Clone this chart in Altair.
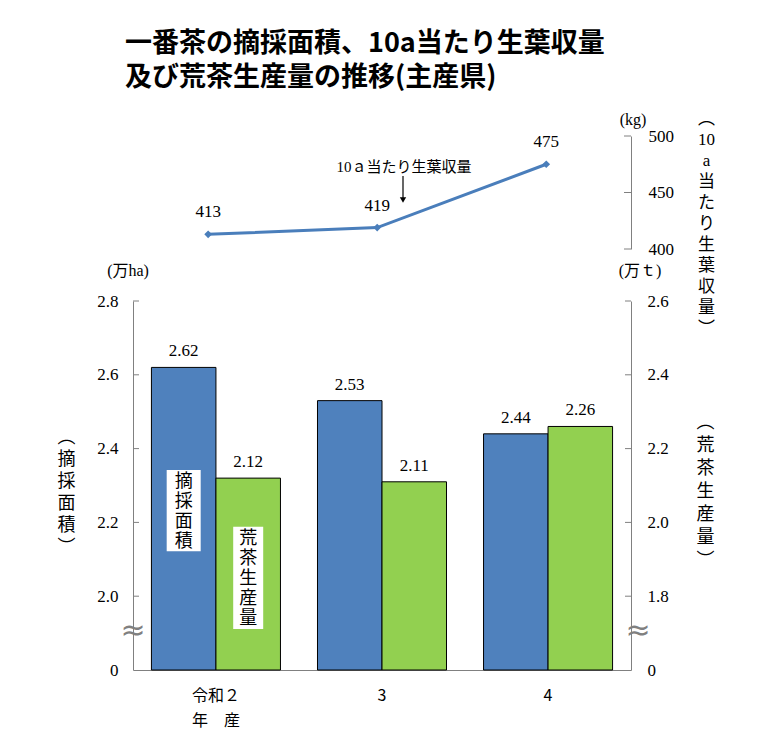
import altair as alt
import pandas as pd

# ---- data ----
years = ["令和２", "3", "4"]
area = [2.62, 2.53, 2.44]          # 摘採面積 (万ha)
production = [2.12, 2.11, 2.26]    # 荒茶生産量 (万t)
yield_kg = [413, 419, 475]         # 10a当たり生葉収量 (kg)
series_names = ["摘採面積", "荒茶生産量"]
left_ticks = [1.8, 2.0, 2.2, 2.4, 2.6, 2.8]
right_ticks = [1.6, 1.8, 2.0, 2.2, 2.4, 2.6]
top_ticks = [400, 450, 500]

# ---- styles ----
BLUE = "#4F81BD"
GREEN = "#92D050"
LINE = "#4A7EBB"
GRAY = "#808080"
SERIF = "'Liberation Serif', 'Noto Sans CJK JP'"
SANS = "'Noto Sans CJK JP'"
W = 498
H_TOP = 113
H_BOT = 369

df_area = pd.DataFrame({"year": years, "series": series_names[0], "value": area})
df_prod = pd.DataFrame({"year": years, "series": series_names[1], "value": production})
df_yield = pd.DataFrame({"year": years, "kg": yield_kg})
one = pd.DataFrame({"a": [0]})

left_scale = alt.Scale(domain=[1.8, 2.8], zero=False, nice=False)
right_scale = alt.Scale(domain=[1.6, 2.6], zero=False, nice=False)
top_scale = alt.Scale(domain=[400, 500], zero=False, nice=False)

x_bot = alt.X(
    "year:N", sort=years,
    scale=alt.Scale(paddingInner=0.223, paddingOuter=0.111),
    axis=alt.Axis(title=None, ticks=False, domainColor=GRAY, labelFont=SANS,
                  labelFontSize=16, labelColor="black", labelPadding=17,
                  labelLineHeight=25, labelAngle=0,
                  labelExpr="datum.value == '令和２' ? ['令和２', '年　産'] : datum.value"),
)
xoff = alt.XOffset("series:N", scale=alt.Scale(domain=series_names, paddingInner=0, paddingOuter=0))

blue = alt.Chart(df_area).mark_bar(color=BLUE, stroke="black", strokeWidth=1).encode(
    x=x_bot, xOffset=xoff,
    y=alt.Y("value:Q", scale=left_scale, axis=alt.Axis(
        orient="left", values=left_ticks,
        labelExpr="datum.value < 1.9 ? '0' : format(datum.value, '.1f')",
        ticks=False, grid=False, domainColor=GRAY, labelFont=SERIF, labelFontSize=17,
        labelColor="black", labelPadding=15,
        title=["︵", "摘", "採", "面", "積", "︶"], titleAngle=0, titleX=-67, titleY=136,
        titleBaseline="middle", titleAlign="center", titleFont=SANS, titleFontSize=18,
        titleFontWeight="normal", titleLineHeight=22, titleColor="black")),
    y2=alt.datum(1.8),
)

green = alt.Chart(df_prod).mark_bar(color=GREEN, stroke="black", strokeWidth=1).encode(
    x=x_bot, xOffset=xoff,
    y=alt.Y("value:Q", scale=right_scale, axis=alt.Axis(
        orient="right", values=right_ticks,
        labelExpr="datum.value < 1.7 ? '0' : format(datum.value, '.1f')",
        ticks=False, grid=False, domainColor=GRAY, labelFont=SERIF, labelFontSize=17,
        labelColor="black", labelPadding=16,
        title=["︵", "荒", "茶", "生", "産", "量", "︶"], titleAngle=0, titleX=74, titleY=121,
        titleBaseline="middle", titleAlign="center", titleFont=SANS, titleFontSize=18,
        titleFontWeight="normal", titleLineHeight=23, titleColor="black")),
    y2=alt.datum(1.6),
)

blue_lbl = alt.Chart(df_area).mark_text(font=SERIF, fontSize=17, dy=-16, color="black").encode(
    x=x_bot, xOffset=xoff,
    y=alt.Y("value:Q", scale=left_scale, axis=None),
    text=alt.Text("value:Q", format=".2f"),
)
green_lbl = alt.Chart(df_prod).mark_text(font=SERIF, fontSize=17, dy=-16, color="black").encode(
    x=x_bot, xOffset=xoff,
    y=alt.Y("value:Q", scale=right_scale, axis=None),
    text=alt.Text("value:Q", format=".2f"),
)

left_tick_rules = alt.Chart(pd.DataFrame({"t": left_ticks[1:]})).mark_rule(color=GRAY).encode(
    y=alt.Y("t:Q", scale=left_scale, axis=None), x=alt.value(0), x2=alt.value(6))
right_tick_rules = alt.Chart(pd.DataFrame({"t": right_ticks[1:]})).mark_rule(color=GRAY).encode(
    y=alt.Y("t:Q", scale=right_scale, axis=None), x=alt.value(W - 6), x2=alt.value(W))

box_a_df = pd.DataFrame({"year": [years[0]], "series": [series_names[0]]})
box_p_df = pd.DataFrame({"year": [years[0]], "series": [series_names[1]]})
box_a = alt.Chart(box_a_df).mark_bar(color="white", size=34).encode(
    x=x_bot, xOffset=xoff,
    y=alt.Y(datum=2.342, scale=left_scale, axis=None), y2=alt.datum(2.122))
box_a_txt = alt.Chart(box_a_df).mark_text(font=SANS, fontSize=18, lineHeight=20, baseline="middle", color="black").encode(
    x=x_bot, xOffset=xoff,
    y=alt.Y(datum=2.309, scale=left_scale, axis=None),
    text=alt.value(["摘", "採", "面", "積"]))
box_p = alt.Chart(box_p_df).mark_bar(color="white", size=30).encode(
    x=x_bot, xOffset=xoff,
    y=alt.Y(datum=1.988, scale=right_scale, axis=None), y2=alt.datum(1.711))
box_p_txt = alt.Chart(box_p_df).mark_text(font=SANS, fontSize=18, lineHeight=20, baseline="middle", color="black").encode(
    x=x_bot, xOffset=xoff,
    y=alt.Y(datum=1.955, scale=right_scale, axis=None),
    text=alt.value(["荒", "茶", "生", "産", "量"]))

unit_ha = alt.Chart(one).mark_text(font=SERIF, fontSize=16, color="black").encode(
    x=alt.value(-5), y=alt.value(-30), text=alt.value("(万ha)"))
unit_t = alt.Chart(one).mark_text(font=SERIF, fontSize=16, color="black").encode(
    x=alt.value(507), y=alt.value(-30), text=alt.value("(万ｔ)"))
brk_l = alt.Chart(one).mark_text(font="DejaVu Sans", fontSize=30, color=GRAY).encode(
    x=alt.value(0), y=alt.value(330), text=alt.value("≈"))
brk_r = alt.Chart(one).mark_text(font="DejaVu Sans", fontSize=30, color=GRAY).encode(
    x=alt.value(505), y=alt.value(330), text=alt.value("≈"))

bottom = alt.layer(
    blue, green, blue_lbl, green_lbl, left_tick_rules, right_tick_rules,
    box_a, box_a_txt, box_p, box_p_txt, unit_ha, unit_t, brk_l, brk_r,
).resolve_scale(y="independent").properties(width=W, height=H_BOT)

# ---- top panel ----
x_top = alt.X("year:N", sort=years, scale=alt.Scale(type="point", padding=0.473, align=0.47), axis=None)
y_top_axis = alt.Axis(
    orient="right", values=top_ticks, ticks=False, grid=False, domainColor=GRAY,
    labelFont=SERIF, labelFontSize=17, labelColor="black", labelPadding=17,
    title=["︵", "10", "a", "当", "た", "り", "生", "葉", "収", "量", "︶"],
    titleAngle=0, titleX=75, titleY=-26, titleBaseline="top", titleAlign="center",
    titleFont=SERIF, titleFontSize=17, titleFontWeight="normal", titleLineHeight=21,
    titleColor="black")

line = alt.Chart(df_yield).mark_line(
    color=LINE, strokeWidth=3,
    point=alt.OverlayMarkDef(shape="diamond", size=60, color=LINE, filled=True),
).encode(x=x_top, y=alt.Y("kg:Q", scale=top_scale, axis=y_top_axis))
line_lbl = alt.Chart(df_yield).mark_text(font=SERIF, fontSize=17, dy=-22, color="black").encode(
    x=x_top, y=alt.Y("kg:Q", scale=top_scale), text="kg:Q")
top_ticks_rules = alt.Chart(pd.DataFrame({"kg": top_ticks})).mark_rule(color=GRAY).encode(
    y=alt.Y("kg:Q", scale=top_scale), x=alt.value(W - 7), x2=alt.value(W))
unit_kg = alt.Chart(one).mark_text(font=SERIF, fontSize=16, color="black").encode(
    x=alt.value(500), y=alt.value(-16), text=alt.value("(kg)"))
ann = alt.Chart(one).mark_text(font=SERIF, fontSize=15, color="black").encode(
    x=alt.value(271), y=alt.value(31), text=alt.value("10ａ当たり生葉収量"))
arrow = alt.Chart(one).mark_rule(color="black", strokeWidth=1.2).encode(
    x=alt.value(270), y=alt.value(40), y2=alt.value(62))
arrow_head = alt.Chart(one).mark_point(shape="triangle-down", filled=True, size=40, color="black", opacity=1).encode(
    x=alt.value(270), y=alt.value(64))

top = alt.layer(line, line_lbl, top_ticks_rules, unit_kg, ann, arrow, arrow_head).properties(width=W, height=H_TOP)

chart = alt.vconcat(
    top, bottom, spacing=52, bounds="flush",
    title=alt.TitleParams(
        text=["一番茶の摘採面積、10a当たり生葉収量", "及び荒茶生産量の推移(主産県)"],
        font=SANS, fontSize=27, fontWeight="bold", color="black",
        anchor="start", dx=68, lineHeight=34, offset=17),
).properties(
    padding={"left": 49, "top": 22, "right": 5, "bottom": 5}
).configure_view(stroke=None).configure_axis(grid=False)

chart.save("out.html", embed_options={"renderer": "svg", "actions": False})
